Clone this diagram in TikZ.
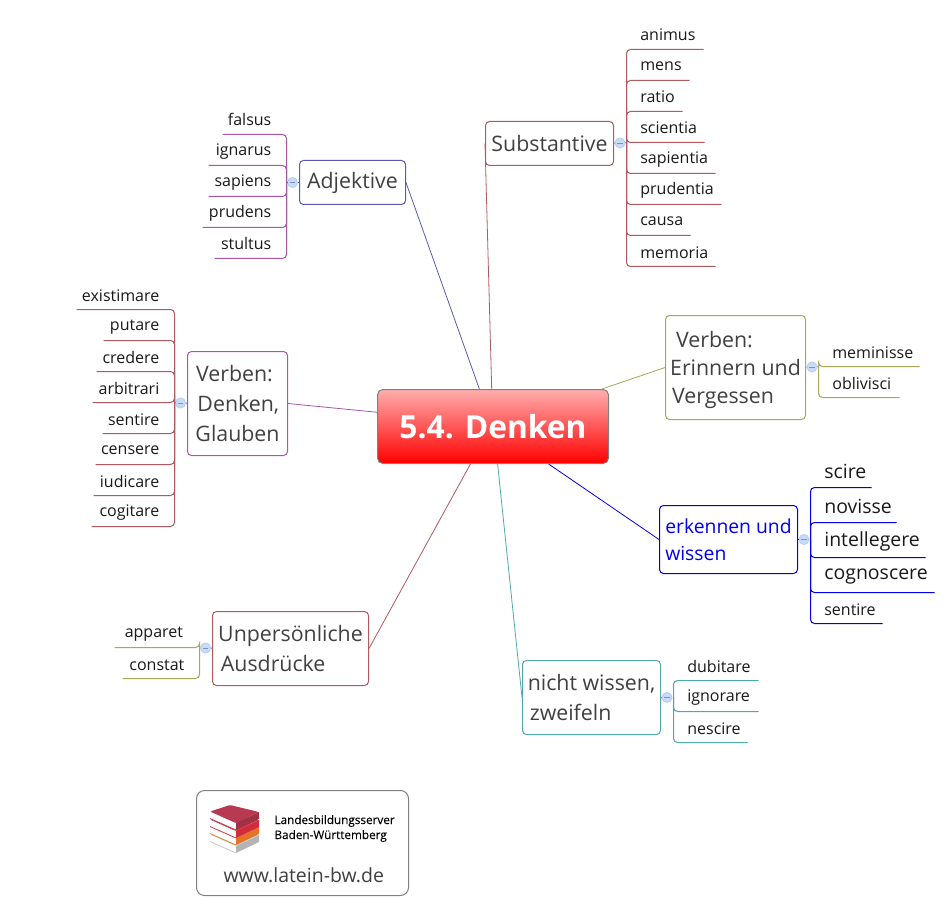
\documentclass[tikz,border=0pt]{standalone}
\usepackage{fontspec}
\setmainfont{Open Sans}
\usetikzlibrary{shapes.geometric}
\definecolor{rotbraun}{RGB}{176,90,95}
\definecolor{lila}{RGB}{168,85,170}
\definecolor{violett}{RGB}{90,90,176}
\definecolor{oliv}{RGB}{168,168,88}
\definecolor{blau}{RGB}{0,0,235}
\definecolor{petrol}{RGB}{80,168,168}
\definecolor{hubfill}{RGB}{200,220,250}
\definecolor{hubline}{RGB}{184,208,245}
\definecolor{hubminus}{RGB}{128,144,192}
\definecolor{buch1}{RGB}{184,58,82}
\definecolor{buch1d}{RGB}{160,50,70}
\definecolor{buch2}{RGB}{222,55,72}
\definecolor{buch2d}{RGB}{205,45,62}
\definecolor{buch3}{RGB}{238,128,48}
\definecolor{buch3d}{RGB}{228,115,40}
\definecolor{buch4}{RGB}{198,198,198}
\definecolor{buch4d}{RGB}{180,180,180}
\tikzset{
	topic/.style={draw, rounded corners=3pt, align=left, text=black!75, inner sep=0pt, font=\fontsize{16}{22.5}\selectfont},
	leaf/.style={text width=#1*0.75pt, inner xsep=0pt, inner ysep=6pt, text height=8pt, text depth=0pt, text=black!90, font=\fontsize{12}{14}\selectfont},
	leafr/.style={leaf=#1, anchor=south west, align=left, execute at begin node=\hspace*{10pt}},
	leafl/.style={leaf=#1, anchor=south east, align=right, execute at end node=\hspace*{11pt}},
	hoch/.style={inner ysep=7.4pt},
	gross/.style={inner ysep=6.75pt, font=\fontsize{14.6}{16}\selectfont},
	twigr/.style={rounded corners=3pt, to path={|- (\tikztotarget.south east)}},
	twigl/.style={rounded corners=3pt, to path={|- (\tikztotarget.south west)}},
	spoke/.style={line width=0.6pt},
	hub/.style={circle, draw=hubline, fill=hubfill, minimum size=7.5pt, inner sep=0pt, path picture={\draw[hubminus, line width=0.4pt] (path picture bounding box.center) +(-2pt,0) -- +(2pt,0);}},
}
\begin{document}
\begin{tikzpicture}[x=0.75pt,y=-0.75pt,line width=0.75pt]
	\useasboundingbox (0,0) rectangle (949,902);

	\node (root) [draw=gray, rounded corners=4pt, top color=red!32, bottom color=red, minimum width=173.25pt, minimum height=55.5pt, text=white, font=\fontsize{23.8}{28}\selectfont\bfseries] at (493,426.5) {5.4. Denken};

	\node (sub) [topic, draw=rotbraun, minimum width=96pt, minimum height=33pt] at (549.5,143.5) {Substantive};
	\node (adj) [topic, draw=violett, minimum width=79.5pt, minimum height=33pt] at (352.5,182.5) {Adjektive};
	\node (glaub) [topic, draw=lila, minimum width=75pt, minimum height=78pt] at (237.5,403.5) {\hspace*{.5pt}Verben:\\\hspace*{1.5pt}Denken,\\Glauben};
	\node (vergess) [topic, draw=oliv, minimum width=105pt, minimum height=78pt, font=\fontsize{16}{21}\selectfont] at (735.5,367.5) {\rule{0pt}{16.5pt}\hspace*{4.5pt}Verben:\\Erinnern und\\\hspace*{1.5pt}Vergessen};
	\node (wiss) [topic, draw=blau, text=blau, minimum width=103.5pt, minimum height=51pt, font=\fontsize{14.5}{20.5}\selectfont] at (728.5,539.5) {erkennen und\\wissen};
	\node (zweif) [topic, draw=petrol, minimum width=103.5pt, minimum height=55.5pt] at (591.5,697.5) {nicht wissen,\\\hspace*{1.5pt}zweifeln};
	\node (aus) [topic, draw=rotbraun, minimum width=117pt, minimum height=55.5pt] at (290.5,648.5) {Unpers\"onliche\\\hspace*{2pt}Ausdr\"ucke};

	\node (subh) [hub] at (620,143) {};
	\node (adjh) [hub] at (292.5,182.5) {};
	\node (glaubh) [hub] at (180.5,403) {};
	\node (vergessh) [hub] at (812,367) {};
	\node (wissh) [hub] at (804,539.5) {};
	\node (zweifh) [hub] at (667,697.5) {};
	\node (aush) [hub] at (205.5,648) {};

	\coordinate (subj) at (626.5,142.5);
	\coordinate (adjj) at (286.5,182.5);
	\coordinate (glaubj) at (174.5,402.5);
	\coordinate (vergessj) at (818.5,366.5);
	\coordinate (wissj) at (810.5,539.5);
	\coordinate (zweifj) at (673.5,697.5);
	\coordinate (ausj) at (199.5,647.5);

	\node (sub0) [leafr=76] at (626.5,49.5) {animus};
	\node (sub1) [leafr=62, hoch] at (626.5,80.5) {mens};
	\node (sub2) [leafr=55] at (626.5,111.5) {ratio};
	\node (sub3) [leafr=77] at (626.5,142.5) {scientia};
	\node (sub4) [leafr=88, hoch] at (626.5,173.5) {sapientia};
	\node (sub5) [leafr=94, hoch] at (626.5,204.5) {prudentia};
	\node (sub6) [leafr=63, hoch] at (626.5,235.5) {causa};
	\node (sub7) [leafr=88] at (626.5,266.5) {memoria};

	\node (adj0) [leafl=63] at (286.5,134.5) {falsus};
	\node (adj1) [leafl=77, hoch] at (286.5,165.5) {ignarus};
	\node (adj2) [leafl=77, hoch] at (286.5,196.5) {sapiens};
	\node (adj3) [leafl=83, hoch] at (286.5,227.5) {prudens};
	\node (adj4) [leafl=71] at (286.5,258.5) {stultus};

	\node (glaub0) [leafl=97] at (174.5,309.5) {existimare};
	\node (glaub1) [leafl=70, hoch] at (174.5,340.5) {putare};
	\node (glaub2) [leafl=77] at (174.5,371.5) {credere};
	\node (glaub3) [leafl=81] at (174.5,402.5) {arbitrari};
	\node (glaub4) [leafl=71] at (174.5,433.5) {sentire};
	\node (glaub5) [leafl=78, hoch] at (174.5,464.5) {censere};
	\node (glaub6) [leafl=80] at (174.5,495.5) {iudicare};
	\node (glaub7) [leafl=82, hoch] at (174.5,526.5) {cogitare};

	\node (vergess0) [leafr=100] at (818.5,366.5) {meminisse};
	\node (vergess1) [leafr=80] at (818.5,397.5) {oblivisci};

	\node (wiss0) [leafr=60, gross] at (810.5,487.5) {scire};
	\node (wiss1) [leafr=85, gross] at (810.5,522.5) {novisse};
	\node (wiss2) [leafr=114, gross, inner ysep=8.25pt] at (810.5,557.5) {intellegere};
	\node (wiss3) [leafr=123, gross, inner ysep=9.75pt] at (810.5,592.5) {cognoscere};
	\node (wiss4) [leafr=71] at (810.5,623.5) {sentire};

	\node (zweif0) [leafr=84] at (673.5,680.5) {dubitare};
	\node (zweif1) [leafr=84, hoch] at (673.5,711.5) {ignorare};
	\node (zweif2) [leafr=73] at (673.5,742.5) {nescire};

	\node (aus0) [leafl=84, hoch] at (199.5,647.5) {apparet\hspace*{1pt}};
	\node (aus1) [leafl=76] at (199.5,678.5) {constat};

	\path[spoke]
	(sub.west) edge[rotbraun] (root.92)
	(adj.east) edge[violett] (root.110.6)
	(glaub.east) edge[lila] (root.173.5)
	(vergess.west) edge[oliv] (root.19.2)
	(wiss.west) edge[blau] (root.-34.5)
	(zweif.west) edge[petrol] (root.-83.7)
	(aus.east) edge[rotbraun] (root.239.7);

	\path
	(sub) edge[rotbraun] (subh)
	(adj) edge[violett] (adjh)
	(glaub) edge[lila] (glaubh)
	(vergess) edge[oliv] (vergessh)
	(wiss) edge[blau] (wissh)
	(zweif) edge[petrol] (zweifh)
	(aus) edge[rotbraun] (aush)
	(subh) edge[rotbraun] (subj)
	(adjh) edge[lila] (adjj)
	(glaubh) edge[rotbraun] (glaubj)
	(vergessh) edge[oliv] (vergessj)
	(wissh) edge[blau] (wissj)
	(zweifh) edge[petrol] (zweifj)
	(aush) edge[oliv] (ausj);

	\path[rotbraun]
	(subj) edge[twigr] (sub0)
	(subj) edge[twigr] (sub1)
	(subj) edge[twigr] (sub2)
	(subj) edge[twigr] (sub3)
	(subj) edge[twigr] (sub4)
	(subj) edge[twigr] (sub5)
	(subj) edge[twigr] (sub6)
	(subj) edge[twigr] (sub7)
	(glaubj) edge[twigl] (glaub0)
	(glaubj) edge[twigl] (glaub1)
	(glaubj) edge[twigl] (glaub2)
	(glaubj) edge[twigl] (glaub3)
	(glaubj) edge[twigl] (glaub4)
	(glaubj) edge[twigl] (glaub5)
	(glaubj) edge[twigl] (glaub6)
	(glaubj) edge[twigl] (glaub7);

	\path[lila]
	(adjj) edge[twigl] (adj0)
	(adjj) edge[twigl] (adj1)
	(adjj) edge[twigl] (adj2)
	(adjj) edge[twigl] (adj3)
	(adjj) edge[twigl] (adj4);

	\path[oliv]
	(vergessj) edge[twigr] (vergess0)
	(vergessj) edge[twigr] (vergess1)
	(ausj) edge[twigl] (aus0)
	(ausj) edge[twigl] (aus1);

	\path[blau]
	(wissj) edge[twigr] (wiss0)
	(wissj) edge[twigr] (wiss1)
	(wissj) edge[twigr] (wiss2)
	(wissj) edge[twigr] (wiss3)
	(wissj) edge[twigr] (wiss4);

	\path[petrol]
	(zweifj) edge[twigr] (zweif0)
	(zweifj) edge[twigr] (zweif1)
	(zweifj) edge[twigr] (zweif2);

	\node (logo) [draw=gray, rounded corners=6pt, minimum width=159pt, minimum height=78.75pt] at (302.5,843) {};
	\node (logo1) [anchor=base west, inner sep=0pt, font=\fontsize{8.8}{10}\selectfont\addfontfeature{FakeBold=0.15}] at (274,824) {Landesbildungsserver};
	\node (logo2) [anchor=base west, inner sep=0pt, font=\fontsize{8.8}{10}\selectfont\addfontfeature{FakeBold=0.15}] at (274,839) {Baden-W\"urttemberg};
	\node (logo3) [anchor=base west, inner sep=0pt, text=black!75, font=\fontsize{14.6}{16}\selectfont] at (223,882) {www.latein-bw.de};

	\foreach \dy/\cover/\dark in {23/buch4/buch4d, 15/buch3/buch3d, 8/buch2/buch2d, 0/buch1/buch1d} {
		\fill[white] (210,811.5+\dy) -- (236,823+\dy) -- (236,830+\dy) -- (210,818.5+\dy) -- cycle;
		\fill[\dark] (236,823+\dy) -- (259,812+\dy) -- (259,819+\dy) -- (236,830+\dy) -- cycle;
		\fill[\cover, rounded corners=1pt] (210,811.5+\dy) -- (230,805+\dy) -- (259,812+\dy) -- (236,823+\dy) -- cycle;
		\draw[\cover, line width=0.6pt] (210,818.5+\dy) -- (236,830+\dy);
	}
\end{tikzpicture}
\end{document}
